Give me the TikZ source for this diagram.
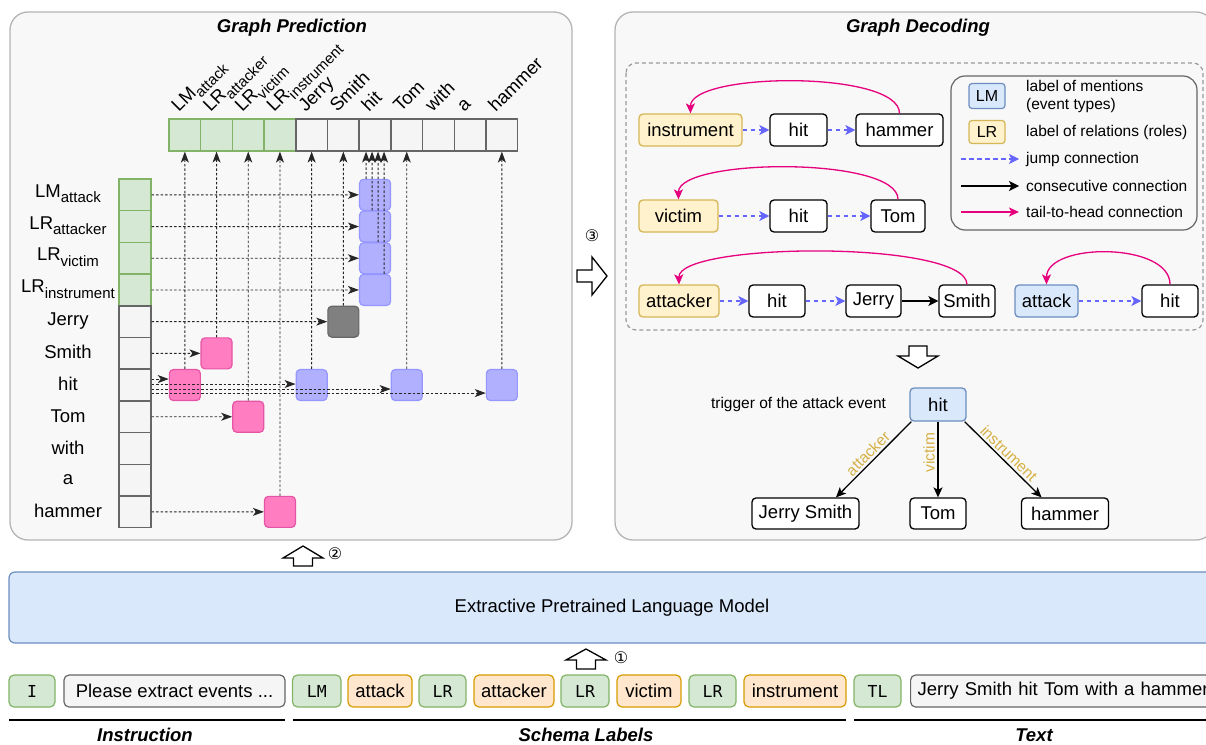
\documentclass[tikz,border=0pt]{standalone}
\usepackage{fontspec}
\setmainfont{Liberation Sans}
\newfontfamily\monof{DejaVu Sans Mono}
\newfontfamily\symf{DejaVu Sans}
\usetikzlibrary{arrows.meta,calc}
\definecolor{gfill}{HTML}{D5E8D4}
\definecolor{gline}{HTML}{82B366}
\definecolor{wfill}{HTML}{F5F5F5}
\definecolor{wline}{HTML}{666666}
\definecolor{bfill}{HTML}{DAE8FC}
\definecolor{bline}{HTML}{6C8EBF}
\definecolor{yfill}{HTML}{FFF2CC}
\definecolor{yline}{HTML}{D6B656}
\definecolor{ofill}{HTML}{FFE6CC}
\definecolor{oline}{HTML}{D79B00}
\definecolor{pfill}{RGB}{255,125,192}
\definecolor{pline}{RGB}{230,85,165}
\definecolor{vfill}{RGB}{176,176,255}
\definecolor{vline}{RGB}{150,150,255}
\definecolor{mag}{HTML}{E6007E}
\definecolor{jump}{HTML}{6666FF}
\definecolor{panelfill}{RGB}{248,248,248}
\definecolor{panelline}{RGB}{180,180,180}
\definecolor{lblc}{RGB}{214,176,70}
\newcommand\sbx[1]{\raisebox{-0.3em}{\fontsize{15}{15}\selectfont #1}}
\begin{document}
\begin{tikzpicture}[x=1pt,y=-1pt,
  every node/.style={inner sep=0pt},
  panel/.style={draw=panelline, fill=panelfill, line width=1.3pt, rounded corners=18pt},
  ttl/.style={font=\bfseries\itshape\fontsize{18.5}{22}\selectfont},
  txt/.style={font=\fontsize{18.5}{22}\selectfont},
  gcell/.style={draw=gline, fill=gfill, line width=1.5pt, minimum size=31.7pt},
  wcell/.style={draw=wline, fill=wfill, line width=1.5pt, minimum size=31.7pt},
  sq/.style={rounded corners=4pt, minimum size=31pt, line width=1.2pt},
  vb/.style={sq, fill=vfill, draw=vline},
  pb/.style={sq, fill=pfill, draw=pline},
  gb/.style={sq, fill=gray, draw=black!60},
  dl/.style={draw=black!85, line width=0.9pt, dash pattern=on 2.5pt off 2pt, -{Stealth[length=11pt,width=8pt,inset=3pt]}},
  hlab/.style={txt, rotate=45, anchor=base west},
  nd/.style={txt, draw=black, fill=white, rounded corners=4pt, line width=1.3pt, minimum height=32pt},
  yb/.style={nd, draw=yline, fill=yfill},
  bb/.style={nd, draw=bline, fill=bfill},
  jmp/.style={draw=jump, line width=1.3pt, dash pattern=on 4.5pt off 3.5pt, -{Stealth[length=10pt,width=10pt,inset=2.5pt]}},
  cons/.style={draw=black, line width=1.3pt, -{Stealth[length=10pt,width=10pt,inset=2.5pt]}},
  tth/.style={draw=mag, line width=1.3pt, -{Stealth[length=10pt,width=9pt,inset=2.5pt]}},
  tarr/.style={draw=black, line width=1.3pt, -{Stealth[length=10pt,width=9pt,inset=2.5pt]}},
  lbl/.style={text=lblc, font=\fontsize{15.5}{16}\selectfont, sloped, above=2pt},
  legt/.style={font=\fontsize{15.5}{18}\selectfont, anchor=west, align=left},
  mb/.style={draw=gline, fill=gfill, rounded corners=5pt, line width=1.2pt, minimum height=32pt, font=\monof\fontsize{16.5}{17}\selectfont},
  ob/.style={txt, draw=oline, fill=ofill, rounded corners=5pt, line width=1.2pt, minimum height=32pt},
  wb/.style={txt, draw=wline, fill=wfill, rounded corners=5pt, line width=1.2pt, minimum height=32pt},
  hollow/.style={draw=black, fill=white, line width=1.3pt, line join=miter},
  num/.style={font=\symf\fontsize{16}{16}\selectfont}
]
\useasboundingbox (0,0) rectangle (1206,744);
\clip (0,0) rectangle (1206,744);

% ---------- panels ----------
\draw[panel] (10,12) rectangle (572,540);
\draw[panel] (615,12) rectangle (1214,540);
\node[ttl] (tp) at (292,28) {Graph Prediction};
\node[ttl] (td) at (918,28) {Graph Decoding};

% ---------- header cells ----------
\foreach \i in {0,...,3} \node[gcell] (h\i) at ({169+31.7*(\i+0.5)},135) {};
\foreach \i in {4,...,10} \node[wcell] (h\i) at ({169+31.7*(\i+0.5)},135) {};
\foreach \i/\t in {0/LM\sbx{attack},1/LR\sbx{attacker},2/LR\sbx{victim},3/LR\sbx{instrument},4/Jerry,5/Smith,6/hit,7/Tom,8/with,9/a,10/hammer}
  \node[hlab] (hl\i) at ({169+31.7*(\i+0.5)-6},113) {\t};

% ---------- left column ----------
\foreach \j in {0,...,3} \node[gcell] (r\j) at (135,{179+31.7*(\j+0.5)}) {};
\foreach \j in {4,...,10} \node[wcell] (r\j) at (135,{179+31.7*(\j+0.5)}) {};
\foreach \j/\t in {0/LM\sbx{attack},1/LR\sbx{attacker},2/LR\sbx{victim},3/LR\sbx{instrument},4/Jerry,5/Smith,6/hit,7/Tom,8/with,9/a,10/hammer}
  \node[txt] (rl\j) at (68,{179+31.7*(\j+0.5)-1}) {\t};

% ---------- prediction boxes ----------
\node[vb] (v0) at (375.05,194.85) {};
\node[vb] (v1) at (375.05,226.55) {};
\node[vb] (v2) at (375.05,258.25) {};
\node[vb] (v3) at (375.05,289.95) {};
\node[gb] (g0) at (343.35,321.65) {};
\node[pb] (p1) at (216.55,353.35) {};
\node[pb] (p0) at (184.85,385.05) {};
\node[pb] (p2) at (248.25,416.75) {};
\node[pb] (p3) at (279.95,511.85) {};
\node[vb] (w4) at (311.65,385.05) {};
\node[vb] (w7) at (406.75,385.05) {};
\node[vb] (w10) at (501.85,385.05) {};

% horizontal connectors
\draw[dl] (r0.east) -- (v0.west);
\draw[dl] (r1.east) -- (v1.west);
\draw[dl] (r2.east) -- (v2.west);
\draw[dl] (r3.east) -- (v3.west);
\draw[dl] (r4.east) -- (g0.west);
\draw[dl] (r5.east) -- (p1.west);
\draw[dl] ([yshift=6pt]r6.east) -- ([yshift=6pt]r6.east -| p0.west);
\draw[dl] ([yshift=1pt]r6.east) -- ([yshift=1pt]r6.east -| w4.west);
\draw[dl] ([yshift=-4pt]r6.east) -- ([yshift=-4pt]r6.east -| w7.west);
\draw[dl] ([yshift=-8pt]r6.east) -- ([yshift=-8pt]r6.east -| w10.west);
\draw[dl] (r7.east) -- (p2.west);
\draw[dl] (r10.east) -- (p3.west);

% vertical connectors
\draw[dl] (p0.north) -- (h0.south);
\draw[dl] (p1.north) -- (h1.south);
\draw[dl] (p2.north) -- (h2.south);
\draw[dl] (p3.north) -- (h3.south);
\draw[dl] (w4.north) -- (h4.south);
\draw[dl] (g0.north) -- (h5.south);
\draw[dl] ([xshift=-9pt]v0.north) -- ([xshift=-9pt]h6.south);
\draw[dl] ([xshift=-3pt]v1.north) -- ([xshift=-3pt]h6.south);
\draw[dl] ([xshift=3pt]v2.north) -- ([xshift=3pt]h6.south);
\draw[dl] ([xshift=9pt]v3.north) -- ([xshift=9pt]h6.south);
\draw[dl] (w7.north) -- (h7.south);
\draw[dl] (w10.north) -- (h10.south);

% ---------- step 3 arrow ----------
\node[num] (n3) at (592,236) {③};
\draw[hollow] (577,270) -- (592,270) -- (592,257) -- (607,276) -- (592,295) -- (592,282) -- (577,282) -- cycle;

% ---------- graph decoding ----------
\draw[draw=black!40, line width=1.2pt, dash pattern=on 4pt off 3pt, rounded corners=10pt] (626,63) rectangle (1203,330);

% legend
\draw[draw=wline, fill=panelfill, line width=1.2pt, rounded corners=14pt] (951,76) rectangle (1197,230);
\node[draw=bline, fill=bfill, rounded corners=3pt, line width=1.2pt, minimum width=36pt, minimum height=25pt, font=\fontsize{16}{16}\selectfont] (lgm) at (987,96) {LM};
\node[draw=yline, fill=yfill, rounded corners=3pt, line width=1.2pt, minimum width=36pt, minimum height=23pt, font=\fontsize{16}{16}\selectfont] (lgr) at (987,132) {LR};
\node[legt] (lt1) at (1026,96) {label of mentions\\(event types)};
\node[legt] (lt2) at (1026,132) {label of relations (roles)};
\coordinate (lj1) at (961,159); \coordinate (lj2) at (1019,159);
\coordinate (lc1) at (961,186); \coordinate (lc2) at (1019,186);
\coordinate (lh1) at (961,212); \coordinate (lh2) at (1019,212);
\draw[jmp] (lj1) -- (lj2);
\draw[cons] (lc1) -- (lc2);
\draw[tth] (lh1) -- (lh2);
\node[legt] (lt3) at (1026,159) {jump connection};
\node[legt] (lt4) at (1026,186) {consecutive connection};
\node[legt] (lt5) at (1026,212) {tail-to-head connection};

% row 1
\node[yb, minimum width=103pt] (ins) at (690.5,130) {instrument};
\node[nd, minimum width=57pt] (hit1) at (798.5,130) {hit};
\node[nd, minimum width=87pt] (ham) at (899.5,130) {hammer};
\draw[jmp] (ins.east) -- (hit1.west);
\draw[jmp] (hit1.east) -- (ham.west);
\draw[tth] (ham.north) .. controls (899.5,70) and (690,72) .. (ins.north);

% row 2
\node[yb, minimum width=79pt] (vic) at (678.5,216) {victim};
\node[nd, minimum width=57pt] (hit2) at (798.5,216) {hit};
\node[nd, minimum width=54pt] (tom) at (898,216) {Tom};
\draw[jmp] (vic.east) -- (hit2.west);
\draw[jmp] (hit2.east) -- (tom.west);
\draw[tth] (tom.north) .. controls (898,156) and (678,158) .. (vic.north);

% row 3
\node[yb, minimum width=80pt] (att) at (679,301) {attacker};
\node[nd, minimum width=56pt] (hit3) at (777,301) {hit};
\node[nd, minimum width=55pt] (jer) at (873.5,301) {Jerry};
\node[nd, minimum width=56pt] (smi) at (967,301) {Smith};
\node[bb, minimum width=63pt] (atk) at (1046.5,301) {attack};
\node[nd, minimum width=56pt] (hit4) at (1170,301) {hit};
\draw[jmp] (att.east) -- (hit3.west);
\draw[jmp] (hit3.east) -- (jer.west);
\draw[cons] (jer.east) -- (smi.west);
\draw[jmp] (atk.east) -- (hit4.west);
\draw[tth] (smi.north) .. controls (966,240) and (678,242) .. (att.north);
\draw[tth] (hit4.north) .. controls (1170,242) and (1046.5,242) .. (atk.north);

% down arrow
\draw[hollow] (909,346) -- (927,346) -- (927,356) -- (938,356) -- (918,368) -- (898,356) -- (909,356) -- cycle;

% tree
\node[bb, minimum width=56pt, minimum height=33pt] (hitT) at (938,404.5) {hit};
\node[font=\fontsize{15.5}{16}\selectfont] (trg) at (798.5,404) {trigger of the attack event};
\node[nd, minimum width=107pt, minimum height=31pt] (js) at (805.5,513.5) {Jerry Smith};
\node[nd, minimum width=56pt, minimum height=31pt] (tomT) at (938,513.5) {Tom};
\node[nd, minimum width=87pt, minimum height=31pt] (hamT) at (1065,513.5) {hammer};
\draw[tarr] ([xshift=2pt]hitT.south west) -- ([xshift=30.5pt]js.north) node[midway, lbl] {attacker};
\draw[tarr] (hitT.south) -- (tomT.north);
\node[text=lblc, font=\fontsize{15.5}{16}\selectfont, rotate=90] (lv) at ($(hitT.south)!0.5!(tomT.north)+(-9,-7)$) {victim};
\draw[tarr] ([xshift=-2pt]hitT.south east) -- ([xshift=-23.5pt]hamT.north) node[midway, lbl] {instrument};

% ---------- language model ----------
\node[num] (n2) at (335,554) {②};
\draw[hollow] (293.5,566) -- (293.5,558) -- (283,558) -- (303,546) -- (323,558) -- (312.5,558) -- (312.5,566) -- cycle;
\node[txt, draw=bline, fill=bfill, line width=1.2pt, rounded corners=6pt, minimum width=1206pt, minimum height=71pt] (plm) at (612,607.5) {Extractive Pretrained Language Model};
\node[num] (n1) at (621,658) {①};
\draw[hollow] (576.5,669) -- (576.5,660) -- (566,660) -- (586,649) -- (606,660) -- (595.5,660) -- (595.5,669) -- cycle;

% ---------- input sequence ----------
\node[mb, minimum width=46pt] (ki) at (32,691) {I};
\node[wb, minimum width=221pt] (kp) at (174.5,691) {Please extract events ...};
\node[mb, minimum width=48.5pt] (klm) at (316.75,691) {LM};
\node[ob, minimum width=64pt] (ka) at (380,691) {attack};
\node[mb, minimum width=47pt] (klr1) at (442.5,691) {LR};
\node[ob, minimum width=80pt] (kat) at (514,691) {attacker};
\node[mb, minimum width=48pt] (klr2) at (585,691) {LR};
\node[ob, minimum width=64pt] (kv) at (649,691) {victim};
\node[mb, minimum width=47pt] (klr3) at (712.5,691) {LR};
\node[ob, minimum width=102pt] (kin) at (795,691) {instrument};
\node[mb, minimum width=47pt] (ktl) at (877.5,691) {TL};
\node[wb, anchor=west, text width=306pt, align=left, inner xsep=7pt] (kt) at (910,691) {Jerry Smith hit Tom with a hammer};

\draw[line width=1.5pt] (9,720) -- (285,720);
\draw[line width=1.5pt] (293,720) -- (846,720);
\draw[line width=1.5pt] (854,720) -- (1215,720);
\node[ttl] (ci) at (145,735) {Instruction};
\node[ttl] (cs) at (586,735) {Schema Labels};
\node[ttl] (ct) at (1034,735) {Text};
\end{tikzpicture}
\end{document}
